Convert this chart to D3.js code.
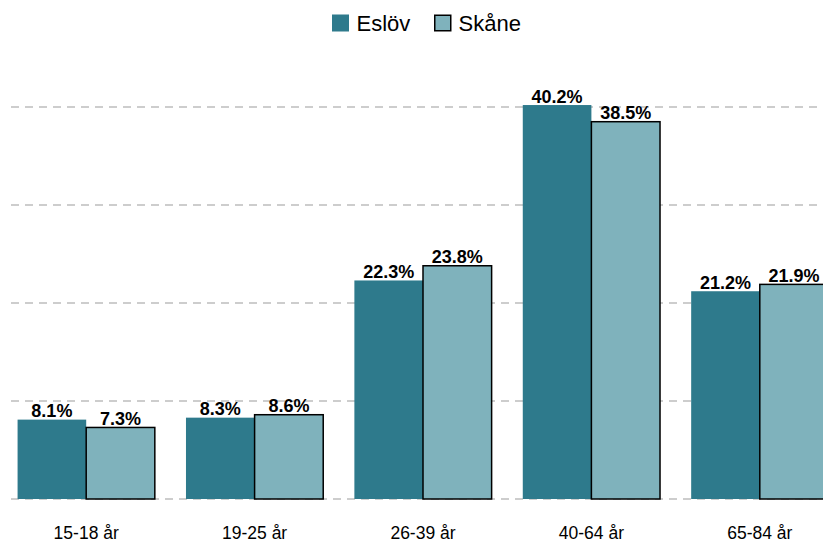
<!DOCTYPE html>
<html><head><meta charset="utf-8">
<script src="https://cdn.jsdelivr.net/npm/d3@7/dist/d3.min.js"></script>
<style>body{margin:0;background:#fff}svg{display:block;font-family:"Liberation Sans",Arial,sans-serif}</style>
</head><body>
<svg id="c" width="823" height="544"></svg>
<script>
const categories = ["15-18 år","19-25 år","26-39 år","40-64 år","65-84 år"];
const seriesNames = ["Eslöv","Skåne"];
const eslov = [8.1, 8.3, 22.3, 40.2, 21.2];
const skane = [7.3, 8.6, 23.8, 38.5, 21.9];
const yTicks = [0, 10, 20, 30, 40];
const colors = ["#2e7a8c", "#7fb2bc"];

const svg = d3.select("#c");
const x = d3.scaleBand().domain(categories).range([2, 844]).paddingInner(0.185).paddingOuter(0.0925);
const xs = d3.scaleBand().domain(seriesNames).range([0, x.bandwidth()]);
const y = d3.scaleLinear().domain([0, 40]).range([499, 107]);

// gridlines
svg.append("g").selectAll("line").data(yTicks).join("line")
  .attr("x1", 11).attr("x2", 823)
  .attr("y1", d => y(d)).attr("y2", d => y(d))
  .attr("stroke", "#bdbdbd").attr("stroke-width", 1.5).attr("stroke-dasharray", "8,6");

const data = categories.map((c, i) => ({c, vals: [eslov[i], skane[i]]}));
const g = svg.append("g").selectAll("g").data(data).join("g")
  .attr("transform", d => `translate(${x(d.c)},0)`);
g.selectAll("rect").data(d => d.vals.map((v, j) => ({v, s: seriesNames[j], j}))).join("rect")
  .attr("x", d => xs(d.s)).attr("width", xs.bandwidth())
  .attr("y", d => y(d.v)).attr("height", d => y(0) - y(d.v))
  .attr("fill", d => colors[d.j])
  .attr("stroke", d => d.j === 1 ? "#000" : "none").attr("stroke-width", 1.5);
g.selectAll("text").data(d => d.vals.map((v, j) => ({v, s: seriesNames[j], j}))).join("text")
  .attr("x", d => xs(d.s) + xs.bandwidth() / 2).attr("y", d => y(d.v) - 2.5)
  .attr("text-anchor", "middle").attr("font-weight", "bold").attr("font-size", 18)
  .attr("fill", "#000").text(d => d.v.toFixed(1) + "%");

// x axis labels
const xAxis = d3.axisBottom(x).tickSize(0).tickPadding(0);
const ax = svg.append("g").attr("transform", `translate(0,${527})`).call(xAxis);
ax.select(".domain").remove();
ax.selectAll("text").attr("font-size", 17.5).attr("fill", "#000").attr("font-family", '"Liberation Sans",Arial,sans-serif');

// legend
const leg = svg.append("g");
const legItems = [{n: seriesNames[0], x: 332, tx: 356.5}, {n: seriesNames[1], x: 434, tx: 458.5}];
legItems.forEach((it, i) => {
  leg.append("rect").attr("x", it.x + (i ? 0.75 : 0)).attr("y", i ? 15.25 : 14.5).attr("width", i ? 16 : 17).attr("height", i ? 15.5 : 17)
    .attr("fill", colors[i]).attr("stroke", i ? "#000" : "none").attr("stroke-width", 1.5);
  leg.append("text").attr("x", it.tx).attr("y", 31).attr("font-size", 22).attr("fill", "#000").text(it.n);
});
</script>
</body></html>
